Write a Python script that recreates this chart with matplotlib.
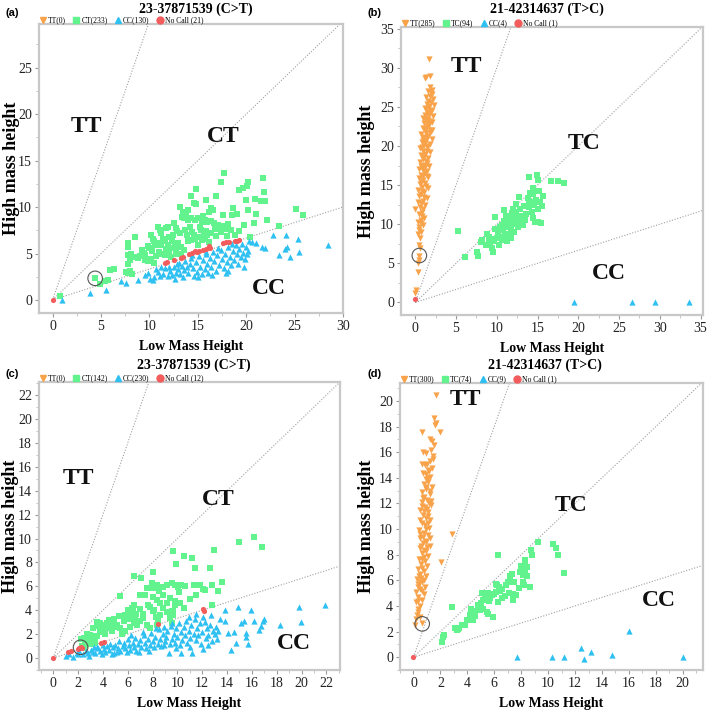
import matplotlib
matplotlib.use("Agg")
import matplotlib.pyplot as plt
from matplotlib.lines import Line2D
from matplotlib.ticker import MultipleLocator, AutoMinorLocator
import numpy as np

# ---- data ----
boundary_slopes = [3.0, 1.0, 1.0 / 3.0]

# (a) 23-37871539 (C>T)
a_title = "23-37871539 (C>T)"
a_legend = ["TT(0)", "CT(233)", "CC(130)", "No Call (21)"]
a_regions = ["TT", "CT", "CC"]
a_tt = []
a_het = [(0.72,0.43),(4.4,2.33),(4.85,1.7),(5.4,2.0),(5.7,2.2),(5.9,3.2),(6.3,3.35),(7.6,3.05),(7.8,2.9),(8.05,3.1),
         (8.2,2.75),(7.8,3.9),(8.0,4.3),(7.8,4.85),(8.1,4.9),(8.5,4.65),(8.8,4.5),(9.0,4.7),(9.5,4.8),(7.8,5.75),
         (7.8,6.1),(8.5,6.8),(9.2,5.4),(9.4,5.1),(9.6,4.3),(9.85,4.15),(9.9,5.8),(10.0,5.6),(10.2,4.4),(10.3,5.3),
         (10.5,3.95),(10.7,4.7),(10.2,7.0),(10.4,6.6),(10.5,6.3),(10.9,7.9),(11.1,7.5),(11.2,7.2),(10.9,6.1),(11.2,5.9),
         (11.6,6.3),(11.9,5.9),(11.0,5.2),(11.3,4.9),(11.7,5.5),(12.0,5.1),(11.7,7.7),(11.9,7.9),(12.3,6.3),(12.6,5.9),
         (12.2,4.6),(12.5,8.3),(12.8,7.7),(12.9,7.4),(13.0,6.1),(13.2,7.2),(13.3,5.7),(13.6,5.4),(12.9,4.9),(13.3,5.0),
         (13.2,10.0),(13.5,9.5),(13.4,8.9),(13.6,8.8),(13.8,9.3),(14.0,9.7),(14.0,8.6),(14.0,6.3),(14.3,6.5),(14.3,8.8),
         (14.3,11.2),(14.6,10.4),(14.8,10.3),(14.8,11.9),(14.7,8.6),(14.7,6.6),(14.4,7.3),(15.0,8.8),(15.0,6.8),(15.0,5.9),
         (15.4,8.4),(15.4,6.5),(15.3,7.5),(15.7,8.6),(15.7,6.6),(15.8,10.8),(15.9,7.4),(16.0,8.4),(16.0,7.0),(16.2,9.5),
         (16.4,9.9),(16.4,8.5),(16.4,7.2),(16.6,9.7),(16.7,8.3),(16.9,11.2),(16.9,6.9),(17.1,8.1),(17.0,7.6),(17.4,12.7),
         (17.4,7.3),(17.6,9.1),(17.7,13.7),(17.5,8.0),(17.9,7.6),(18.1,8.2),(18.0,6.9),(18.5,9.1),(18.6,9.9),(18.4,7.5),
         (18.8,7.0),(19.1,9.2),(19.3,11.8),(19.3,7.4),(19.7,12.0),(19.8,8.1),(20.0,10.8),(20.1,12.3),(20.2,12.7),(20.2,9.7),
         (20.4,6.8),(20.8,8.3),(20.9,10.9),(21.0,9.3),(21.5,10.6),(21.7,13.1),(21.8,11.6),(21.9,10.7),(22.2,8.6),(23.4,8.0),
         (25.1,9.8),(25.9,9.15),(12.0,6.8),(12.4,7.0),(11.4,6.6),(10.6,5.9),(13.7,7.5),(13.9,7.0),(14.2,7.9),(14.6,7.0),
         (15.2,7.9),(15.6,7.1),(16.2,6.2),(16.8,7.8),(15.5,9.0),(12.8,5.3),(11.6,4.8),(12.3,5.6)]
a_cc = [(0.96,0.0),(3.9,0.7),(5.5,1.08),(7.1,2.0),(7.6,1.85),(8.8,2.2),(9.6,2.65),(9.9,2.9),(10.1,2.3),(10.4,2.15),
        (10.5,2.5),(10.9,3.0),(11.1,2.6),(11.4,2.8),(11.6,3.4),(11.9,2.55),(12.1,3.1),(12.3,2.7),(12.5,3.5),(12.7,2.9),
        (12.9,3.9),(13.0,3.3),(13.2,2.8),(13.4,3.7),(13.6,3.2),(13.7,4.2),(13.9,3.6),(14.0,2.9),(14.2,3.9),(14.3,4.5),
        (14.5,3.4),(14.6,2.6),(14.8,4.1),(14.9,3.0),(15.1,4.7),(15.2,3.6),(15.4,2.8),(15.5,4.3),(15.7,3.3),(15.8,4.9),
        (16.0,3.9),(16.1,2.9),(16.3,4.5),(16.4,3.6),(16.6,5.2),(16.7,4.2),(16.9,3.1),(17.0,4.8),(17.2,3.8),(17.4,5.4),
        (17.5,4.4),(17.7,3.4),(17.8,5.0),(18.0,4.1),(18.1,5.7),(18.3,4.6),(18.4,3.8),(18.6,5.3),(18.7,4.3),(18.9,5.9),
        (19.0,4.9),(19.2,3.9),(19.3,5.5),(19.5,4.6),(19.6,6.0),(19.7,5.1),(19.9,4.4),(20.0,5.7),(20.1,4.9),(20.2,5.3),
        (20.3,6.3),(20.6,6.2),(21.0,6.1),(21.6,5.7),(21.9,5.6),(22.8,7.0),(24.1,7.0),(23.4,4.85),(24.0,5.45),(24.2,5.7),
        (24.55,4.66),(25.4,6.6),(25.5,5.2),(28.4,5.9),(12.0,3.6),(13.1,4.0),(14.4,4.8),(15.9,5.2),(17.1,5.6),(18.5,6.0),
        (11.2,3.5),(10.7,3.3),(16.5,2.7),(18.1,3.1),(19.8,3.6),(17.9,2.9),(15.0,2.5),(13.5,2.5),(12.6,2.3)]
a_nc = [(0,0),(11.6,4.0),(11.8,4.05),(13.3,4.55),(13.5,4.6),(14.1,4.9),(14.4,5.1),(14.7,5.25),(15.1,5.3),(15.5,5.35),
        (16.2,5.85),(16.3,5.6),(17.6,6.15),(17.9,6.2),(18.2,6.2),(18.8,6.35),(19.1,6.4),(19.3,6.45),(15.8,5.45),(14.9,5.2),(12.5,4.3)]
a_circled = (4.4, 2.33)

# (b) 21-42314637 (T>C)
b_title = "21-42314637 (T>C)"
b_legend = ["TT(285)", "TC(94)", "CC(4)", "No Call (1)"]
b_regions = ["TT", "TC", "CC"]
b_tt = [(0.0,1.15),(0.05,1.6),(0.35,3.9),(0.3,5.0),(0.5,5.4),(0.45,6.0),(0.6,6.9),(0.4,7.4),(0.55,8.2),(0.35,8.7),
        (0.7,9.0),(0.5,9.6),(0.9,9.9),(0.3,10.3),(0.65,10.6),(1.1,10.8),(0.45,11.3),(0.85,11.5),(0.0,12.0),(0.6,12.2),
        (1.2,12.4),(0.35,12.8),(0.9,13.0),(1.4,13.3),(0.5,13.6),(0.75,13.9),(1.1,14.1),(0.3,14.4),(1.55,14.6),(0.85,14.8),
        (0.55,15.1),(1.25,15.3),(0.95,15.6),(0.45,15.9),(1.6,16.0),(0.7,16.3),(1.15,16.5),(1.45,16.8),(0.5,17.0),(0.85,17.2),
        (1.7,17.4),(1.05,17.6),(0.6,17.9),(1.35,18.1),(0.9,18.3),(1.6,18.5),(0.75,18.8),(1.2,19.0),(1.85,19.2),(0.95,19.4),
        (0.6,19.7),(1.45,19.9),(1.1,20.1),(1.75,20.3),(0.8,20.5),(1.3,20.7),(2.0,20.9),(1.0,21.1),(1.55,21.3),(0.7,21.5),
        (1.85,21.7),(1.2,21.9),(2.1,22.1),(0.95,22.3),(1.45,22.5),(1.7,22.7),(1.1,22.9),(2.0,23.1),(1.35,23.3),(1.6,23.5),
        (0.9,23.6),(2.2,23.8),(1.25,24.0),(1.8,24.2),(1.5,24.4),(2.05,24.6),(1.15,24.8),(1.7,25.0),(2.3,25.2),(1.4,25.4),
        (1.95,25.6),(1.6,25.8),(2.2,26.0),(1.3,26.2),(1.85,26.4),(2.1,26.7),(1.6,27.0),(2.0,27.2),(1.75,27.5),(1.9,26.9),
        (1.35,28.8),(1.15,28.7),(1.8,28.9),(1.7,31.1),(0.8,14.2),(1.3,14.9),(0.65,15.4),(1.0,16.1),(1.4,16.2),(0.9,16.9),
        (1.25,17.3),(1.5,17.8),(0.75,17.5),(1.1,18.6),(1.45,19.3),(0.85,19.9),(1.6,20.0),(1.25,20.4),(1.0,20.8),(1.5,21.0),
        (1.35,21.6),(1.75,22.0),(1.3,22.2),(1.55,22.9),(1.85,23.2),(1.15,23.5),(1.6,24.0),(1.95,24.5),(1.3,24.7),(1.55,25.1),
        (1.05,13.5),(0.7,12.7),(1.0,11.9),(0.8,11.0),(0.4,9.2),(0.7,10.1)]
b_het = [(5.24,9.1),(6.14,5.83),(7.57,6.47),(7.65,6.0),(8.2,7.96),(8.8,8.8),(9.0,8.4),(9.2,7.3),(9.4,6.9),(9.5,6.5),
         (9.8,10.9),(9.8,9.4),(9.0,7.6),(8.7,7.4),(10.0,8.2),(10.2,8.9),(10.4,9.6),(10.5,8.4),(10.7,9.9),(10.9,10.4),
         (10.8,9.2),(11.0,8.6),(11.1,11.0),(11.2,9.7),(11.3,7.9),(11.5,10.2),(11.6,10.9),(11.4,8.8),(11.8,9.5),(11.9,11.4),
         (12.0,10.3),(12.1,9.0),(12.2,10.8),(12.3,12.6),(12.4,11.5),(12.5,10.0),(12.6,9.6),(12.7,13.5),(12.8,10.9),(12.9,11.9),
         (13.0,10.4),(13.2,9.9),(13.3,12.3),(13.5,10.5),(13.6,11.3),(13.8,13.4),(13.9,16.0),(13.9,12.2),(14.0,13.0),(14.1,14.0),
         (14.2,12.8),(14.3,11.6),(14.4,13.8),(14.5,10.8),(14.6,12.4),(14.7,10.3),(14.8,13.1),(14.9,16.3),(15.0,11.9),(15.1,15.6),
         (15.1,10.3),(15.3,12.9),(15.4,10.2),(15.6,12.3),(15.7,13.6),(15.2,14.2),(14.5,14.6),(16.7,15.5),(17.5,15.5),(18.3,15.3),
         (10.6,8.0),(9.7,7.8),(10.3,7.4),(11.7,8.3),(12.0,12.0),(13.1,11.1),(8.1,7.7),(9.3,8.1),(10.9,11.8),(11.2,10.1)]
b_cc = [(19.5,0.0),(26.6,0.0),(29.4,0.0),(33.6,0.0)]
b_nc = [(0.0,0.4)]
b_circled = (0.5, 6.0)

# (c) 23-37871539 (C>T)
c_title = "23-37871539 (C>T)"
c_legend = ["TT(0)", "CT(142)", "CC(230)", "No Call (12)"]
c_regions = ["TT", "CT", "CC"]
c_tt = []
c_het = [(2.46,1.67),(2.59,1.11),(2.72,1.39),(2.86,1.25),(2.99,1.95),(3.12,1.5),(3.26,1.81),(3.39,1.67),(3.52,1.81),(3.79,2.22),
         (4.06,2.78),(4.32,2.92),(4.59,2.78),(4.86,3.06),(5.12,2.78),(5.39,2.5),(5.66,3.06),(5.92,3.34),(6.06,4.0),(6.19,3.62),
         (6.33,4.2),(6.46,3.9),(6.51,4.46),(6.73,2.78),(6.99,3.06),(7.26,3.34),(7.39,5.29),(7.53,2.78),(7.66,4.46),(7.79,2.5),
         (8.06,3.9),(8.33,2.78),(8.46,3.06),(8.59,3.62),(8.86,4.18),(9.13,3.84),(9.39,3.34),(9.53,2.92),(9.66,3.9),(9.8,4.46),
         (6.99,5.29),(7.26,5.29),(7.53,5.84),(7.93,6.27),(8.06,5.84),(8.33,6.12),(8.54,5.57),(8.86,5.98),(9.13,6.12),(9.53,6.27),
         (9.8,6.12),(10.06,5.98),(10.33,6.12),(10.6,6.06),(8.06,5.15),(8.33,4.88),(8.59,4.6),(8.86,5.29),(9.13,4.6),(9.39,5.01),
         (9.53,3.9),(9.66,3.62),(9.8,4.74),(9.66,8.96),(12.95,9.02),(10.5,8.5),(11.2,8.35),(9.9,7.85),(11.4,7.5),(12.6,7.5),
         (6.5,6.83),(7.1,6.74),(8.06,7.24),(5.39,5.23),(11.3,6.1),(11.8,6.1),(12.1,5.8),(12.2,5.7),(12.8,4.45),(10.1,5.5),
         (10.2,4.6),(12.8,6.1),(13.3,5.6),(13.6,6.4),(14.95,9.75),(16.2,10.1),(16.8,9.3),(11.0,4.9),(11.5,5.3),(10.5,4.2),
         (5.5,2.0),(5.8,2.3),(6.2,2.6),(6.6,2.9),(4.0,2.4),(4.4,2.5),(3.6,2.7),(3.5,3.0),(3.8,2.9),(4.2,2.0),
         (2.3,1.0),(2.5,0.8),(3.0,1.2),(3.4,1.3),(4.9,3.3),(5.3,3.5),(5.0,2.6),(6.4,3.5),(6.6,3.3),(6.7,3.7),
         (6.4,4.1),(6.5,3.0),(7.0,4.1),(7.2,3.7),(7.8,4.3),(8.1,4.0),(8.3,3.4),(2.2,1.6),(2.7,2.0),(3.2,2.5),
         (4.7,2.3),(5.8,3.6),(6.0,3.7),(6.2,3.3),(4.5,3.2)]
c_cc = [(1.0,0.14),(1.6,0.05),(1.3,0.3),(1.9,0.45),(2.1,0.6),(2.4,0.3),(2.6,0.55),(2.8,0.45),(3.0,0.7),(3.2,0.5),
        (3.4,0.4),(3.6,0.8),(3.5,0.95),(3.8,0.6),(3.9,0.35),(4.1,0.75),(4.3,1.0),(4.2,0.5),(4.5,0.65),(4.6,1.2),
        (4.8,0.9),(4.9,0.4),(5.0,1.1),(5.2,0.8),(5.3,1.4),(5.4,0.6),(5.6,1.0),(5.7,1.3),(5.8,0.8),(6.0,1.6),
        (6.1,1.1),(6.2,0.7),(6.4,1.3),(6.5,0.9),(6.6,1.7),(6.8,1.2),(6.9,0.5),(7.0,1.5),(7.1,0.9),(7.3,1.9),
        (7.4,1.3),(7.5,0.8),(7.6,1.6),(7.8,1.1),(7.9,2.1),(8.0,1.4),(8.1,0.9),(8.2,1.8),(8.4,1.2),(8.5,2.4),
        (8.6,1.6),(8.7,1.0),(8.8,2.0),(8.9,2.6),(9.0,1.4),(9.1,1.8),(9.2,2.3),(9.3,0.45),(9.4,1.2),(9.5,2.7),
        (9.6,1.6),(9.7,2.0),(9.8,1.3),(9.9,2.5),(10.0,1.8),(10.1,2.9),(10.2,1.1),(10.25,0.4),(10.3,2.2),(10.4,1.5),
        (10.5,2.6),(10.6,1.9),(10.7,3.1),(10.8,1.3),(10.9,2.3),(11.0,1.7),(11.1,2.8),(11.2,0.4),(11.3,2.0),(11.4,3.3),
        (11.5,1.5),(11.6,2.5),(11.7,1.9),(11.8,2.9),(11.9,1.2),(12.0,2.2),(12.07,0.75),(12.2,3.0),(12.3,1.7),(12.4,2.5),
        (12.5,1.9),(12.6,2.8),(12.68,3.62),(12.8,1.4),(12.9,2.3),(13.0,2.0),(13.1,2.6),(13.2,1.6),(13.3,2.3),(13.8,3.06),
        (13.85,3.98),(14.07,2.08),(14.3,0.69),(14.6,2.14),(14.7,1.3),(14.87,4.26),(15.1,2.92),(15.4,3.14),(15.5,2.09),(15.5,1.8),
        (15.67,1.19),(15.93,3.98),(16.15,3.06),(16.6,2.36),(16.7,2.7),(16.9,3.06),(17.0,3.3),(18.3,2.73),(19.8,4.26),(19.93,2.98),
        (21.93,4.45),(2.0,0.3),(2.9,0.2),(3.3,0.9),(4.0,1.1),(4.7,0.3),(5.1,0.5),(5.9,0.5),(6.3,1.9),(6.7,0.6),
        (7.2,2.2),(7.7,0.6),(8.3,2.5),(8.9,1.1),(9.6,2.9),(10.9,3.4),(11.5,3.7),(12.1,3.4),(13.4,3.3),(12.5,1.1),
        (11.0,0.9),(9.9,0.8)]
c_nc = [(0,0),(1.17,0.47),(1.44,0.56),(2.1,0.84),(2.25,0.92),(2.3,0.88),(3.85,1.25),(4.06,1.34),(8.46,2.84),(12.07,4.1),(12.15,3.9),(2.0,0.75)]
c_circled = (2.2, 0.9)

# (d) 21-42314637 (T>C)
d_title = "21-42314637 (T>C)"
d_legend = ["TT(300)", "TC(74)", "CC(9)", "No Call (1)"]
d_regions = ["TT", "TC", "CC"]
d_tt = [(0.12,2.5),(0.62,2.65),(0.25,3.3),(0.37,3.55),(0.2,3.0),(0.45,3.1),(0.3,3.8),(0.5,4.0),(0.22,4.3),(0.6,4.5),
        (0.35,4.7),(0.75,4.9),(0.2,5.1),(0.5,5.3),(0.85,5.5),(0.35,5.7),(0.65,5.9),(0.25,6.1),(0.95,6.3),(0.5,6.5),
        (0.75,6.7),(0.3,6.9),(1.0,7.1),(0.55,7.3),(0.85,7.5),(0.4,7.7),(1.1,7.9),(0.65,8.1),(0.9,8.3),(0.45,8.5),
        (1.2,8.7),(0.7,8.9),(0.95,9.1),(0.5,9.3),(1.05,9.5),(0.75,9.7),(0.4,9.9),(1.15,10.1),(0.85,10.3),(0.6,10.5),
        (1.25,10.7),(0.95,10.9),(0.7,11.1),(1.1,11.3),(0.5,11.5),(0.85,11.7),(1.3,11.9),(0.65,12.1),(1.0,12.3),(0.8,12.5),
        (1.2,12.7),(0.6,12.9),(0.95,13.1),(1.35,13.3),(0.75,13.5),(1.1,13.7),(0.9,13.9),(1.25,14.1),(0.7,14.4),(1.05,14.6),
        (1.4,14.8),(0.85,15.0),(0.6,15.1),(1.0,15.1),(1.43,15.7),(1.48,15.5),(1.2,15.3),(0.74,16.0),(0.91,15.9),(1.3,16.2),
        (1.55,16.6),(1.23,17.0),(1.36,16.9),(0.62,17.6),(1.98,17.6),(1.53,18.7),(1.65,18.3),(1.6,18.1),(1.65,20.5),(2.84,9.65),
        (2.05,7.45),(0.4,6.3),(0.6,7.0),(0.8,7.8),(0.55,8.7),(1.0,8.6),(0.7,9.4),(0.9,10.0),(0.5,10.7),(1.05,11.0),
        (0.8,11.4),(1.15,12.0),(0.7,12.4),(0.9,13.3),(1.05,14.0),(1.15,14.5),(0.95,14.3),(0.45,5.9),(0.6,5.2),(0.35,4.4),
        (0.8,6.0),(0.65,7.7),(0.9,9.0),(1.1,10.5),(0.6,11.8),(1.3,12.2),(1.25,13.0),(0.3,5.5),(0.55,6.2),(0.75,8.4),
        (0.45,9.6),(1.2,9.3),(1.0,11.6)]
d_het = [(2.15,1.22),(2.2,1.6),(2.3,1.7),(2.84,3.94),(3.1,2.25),(3.2,2.1),(3.3,2.2),(3.6,2.5),(3.7,2.55),(3.8,2.5),
         (4.2,3.3),(4.27,3.8),(4.3,3.0),(4.44,2.9),(4.57,3.2),(4.77,4.07),(4.86,3.8),(4.94,3.7),(5.0,4.2),(5.19,4.46),
         (5.3,4.7),(5.4,4.85),(5.06,4.98),(5.43,3.55),(5.56,3.4),(5.88,3.16),(5.7,4.6),(5.85,4.85),(6.1,5.1),(6.2,5.6),
         (6.35,5.45),(6.45,5.2),(6.6,5.35),(6.3,4.33),(6.6,4.6),(6.8,4.75),(6.9,5.6),(7.0,5.9),(7.2,6.3),(7.3,6.5),
         (7.36,4.5),(7.4,4.9),(7.65,4.85),(7.8,5.4),(7.9,6.67),(8.15,6.9),(8.3,7.3),(8.3,7.6),(8.4,7.05),(8.0,7.1),
         (8.15,5.9),(8.2,5.6),(8.64,5.5),(8.7,8.35),(8.8,7.95),(9.26,9.0),(10.37,8.87),(10.6,8.53),(10.7,7.96),(11.2,6.6),
         (6.3,7.96),(5.6,4.4),(6.0,4.9),(7.1,5.0),(8.1,6.4),(8.4,6.3),(8.25,6.7),(4.6,3.6),(5.2,3.8),(6.1,5.7),
         (5.5,5.0),(7.5,5.9),(4.0,2.9),(3.4,2.3)]
d_cc = [(7.7,0.0),(10.3,0.0),(11.2,0.0),(12.47,0.7),(12.7,-0.13),(13.2,0.44),(14.74,0.18),(16.0,2.07),(20.0,0.0)]
d_nc = [(0.0,0.0)]
d_circled = (0.65, 2.6)

# ---- style ----
ORANGE = "#F8A34A"
GREEN = "#62F28E"
BLUE = "#2FC0F2"
RED = "#F25C5C"
SERIF = "Liberation Serif"

W, H = 709, 711
fig = plt.figure(figsize=(W / 100, H / 100), dpi=100)


def px_rect(l, t, r, b):
    return [l / W, 1 - b / H, (r - l) / W, (b - t) / H]


def xy(pts):
    if not pts:
        return np.array([]), np.array([])
    arr = np.array(pts, dtype=float)
    return arr[:, 0], arr[:, 1]


def panel(rect, tag, tag_pos, title, title_pos, legend, regions, region_pos, tt, het, cc, nc,
          circled, xlim, ylim, step, ylab_x):
    ax = fig.add_axes(px_rect(*rect))
    # genotype boundary lines from the origin
    for s in boundary_slopes:
        xe = xlim[1] * 1.2
        ax.plot([0, xe], [0, s * xe], ls=(0, (1, 1.5)), color="#a0a0a0", lw=0.8, zorder=1)

    x, y = xy(tt)
    ax.scatter(x, y, marker="v", s=20, color=ORANGE, lw=0, zorder=3)
    x, y = xy(het)
    ax.scatter(x, y, marker="s", s=14, color=GREEN, lw=0, zorder=3)
    x, y = xy(cc)
    ax.scatter(x, y, marker="^", s=20, color=BLUE, lw=0, zorder=3)
    x, y = xy(nc)
    ax.scatter(x, y, marker="o", s=14, color=RED, lw=0, zorder=4)
    ax.scatter([circled[0]], [circled[1]], s=110, facecolors="none", edgecolors="#555555",
               lw=0.8, zorder=5)

    for txt, (tx, ty) in zip(regions, region_pos):
        ax.text(tx, ty, txt, fontsize=17, fontweight="bold", family=SERIF, ha="center",
                va="center", color="#111111")

    ax.set_xlim(*xlim)
    ax.set_ylim(*ylim)
    ax.xaxis.set_major_locator(MultipleLocator(step))
    ax.yaxis.set_major_locator(MultipleLocator(step))
    ax.xaxis.set_minor_locator(AutoMinorLocator(2))
    ax.yaxis.set_minor_locator(AutoMinorLocator(2))
    ax.tick_params(which="major", length=3, width=0.8, color="#999999", labelsize=10,
                   labelcolor="#222222", pad=2)
    ax.tick_params(which="minor", length=2, width=0.6, color="#bbbbbb")
    for lab in ax.get_xticklabels() + ax.get_yticklabels():
        lab.set_family(SERIF)
    for sp in ax.spines.values():
        sp.set_color("#c8c8c8")
        sp.set_linewidth(1.6)

    ax.set_xlabel("Low Mass Height", family=SERIF, fontweight="bold", fontsize=10, labelpad=5)
    ax.set_ylabel("High mass height", family=SERIF, fontweight="bold", fontsize=13)
    ax.yaxis.set_label_coords(ylab_x, 0.5)

    handles = [Line2D([], [], ls="", marker="v", color=ORANGE, ms=4.5),
               Line2D([], [], ls="", marker="s", color=GREEN, ms=4),
               Line2D([], [], ls="", marker="^", color=BLUE, ms=4.5),
               Line2D([], [], ls="", marker="o", color=RED, ms=5)]
    ax.legend(handles, legend, loc="lower left", bbox_to_anchor=(0.0, 0.995), ncol=4,
              frameon=False, prop={"family": SERIF, "size": 5.5}, handlelength=0.9,
              handletextpad=0.2, columnspacing=0.9, borderpad=0.0, borderaxespad=0.1)

    fig.text(title_pos[0] / W, 1 - title_pos[1] / H, title, family=SERIF, fontweight="bold",
             fontsize=10, ha="center", va="center")
    fig.text(tag_pos[0] / W, 1 - tag_pos[1] / H, tag, fontsize=8, fontweight="bold",
             family="Liberation Sans", ha="left", va="center")
    return ax


panel((39, 24, 343, 313), "(a)", (5, 13), a_title, (196, 9), a_legend, a_regions,
      [(3.55, 18.7), (17.6, 17.6), (22.3, 1.25)], a_tt, a_het, a_cc, a_nc, a_circled,
      (-1.4, 30.0), (-1.4, 29.7), 5, -0.064)
panel((401, 27, 703, 315), "(b)", (367, 13), b_title, (547, 9), b_legend, b_regions,
      [(6.3, 30.1), (20.7, 20.3), (23.7, 3.7)], b_tt, b_het, b_cc, b_nc, b_circled,
      (-1.75, 35.3), (-1.6, 35.2), 5, -0.085)
panel((39, 382, 340, 670), "(c)", (5, 374), c_title, (194, 365), c_legend, c_regions,
      [(2.0, 15.0), (13.3, 13.3), (19.4, 1.25)], c_tt, c_het, c_cc, c_nc, c_circled,
      (-1.15, 23.1), (-1.0, 23.1), 2, -0.065)
panel((400, 383, 703, 670), "(d)", (367, 374), d_title, (545, 365), d_legend, d_regions,
      [(3.83, 20.15), (11.7, 11.85), (18.2, 4.46)], d_tt, d_het, d_cc, d_nc, d_circled,
      (-1.0, 21.5), (-1.0, 21.4), 2, -0.082)

fig.savefig("out.png", dpi=100)
